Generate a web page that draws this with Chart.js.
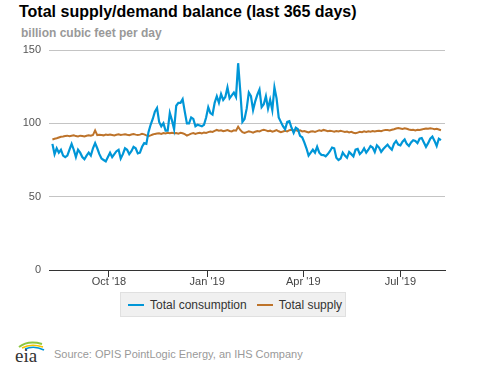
<!DOCTYPE html>
<html>
<head>
<meta charset="utf-8">
<script src="https://cdn.jsdelivr.net/npm/chart.js@4"></script>
<style>
  body { margin: 0; width: 477px; height: 367px; background: #fff; position: relative; overflow: hidden; font-family: "Liberation Sans", Arial, sans-serif; }
  #title { position: absolute; left: 19px; top: 4px; font-size: 16px; line-height: 16px; font-weight: bold; color: #000; white-space: nowrap; }
  #subtitle { position: absolute; left: 21px; top: 27px; font-size: 12px; line-height: 12px; font-weight: bold; color: #999; white-space: nowrap; }
  #chartBox { position: absolute; left: 0; top: 0; width: 477px; height: 290px; }
  #legend { position: absolute; left: 120px; top: 292px; width: 224px; height: 23px; background: #f0f0f0; border: 1px solid #e0e0e0; display: flex; align-items: center; font-size: 12px; color: #333; }
  .swatch { display: inline-block; width: 16px; height: 2px; margin-right: 6px; }
  .item { display: flex; align-items: center; white-space: nowrap; }
  #source { position: absolute; left: 54px; top: 348px; font-size: 11px; line-height: 13px; color: #999; white-space: nowrap; }
  #logo { position: absolute; left: 14px; top: 339px; }
</style>
</head>
<body>
<div id="title">Total supply/demand balance (last 365 days)</div>
<div id="subtitle">billion cubic feet per day</div>
<div id="chartBox"><canvas id="chart"></canvas></div>
<div id="legend">
  <div class="item" style="margin-left:7px"><span class="swatch" style="background:#0096d7"></span>Total consumption</div>
  <div class="item" style="margin-left:10px"><span class="swatch" style="background:#bd732a"></span>Total supply</div>
</div>
<svg id="logo" width="32" height="25" viewBox="0 0 32 25">
  <path d="M5 8 Q14 1 28 5" stroke="#8dc63f" stroke-width="2" fill="none"/>
  <path d="M8 9 Q17 4 29 8" stroke="#f5c400" stroke-width="1.6" fill="none"/>
  <path d="M11 10 Q20 6 30 11" stroke="#0096d7" stroke-width="1.6" fill="none"/>
  <text x="1" y="23" font-family="Liberation Serif, serif" font-size="19" fill="#333">eia</text>
</svg>
<div id="source">Source: OPIS PointLogic Energy, an IHS Company</div>

<script>
// days counted from Aug 1 2018, one value every 2 days
const firstDay = 8;
const stepDays = 2;

const consumption = [
  86, 79, 83, 80, 82, 78, 77, 78, 82, 86,
  82, 77, 82, 80, 77, 75.5, 78, 80, 78, 83,
  86.5, 83, 79, 76, 75, 74, 77, 80, 77, 79,
  81, 82, 76, 79, 83, 82, 79, 81, 84, 83,
  79.5, 80, 84, 86.5, 86, 94, 99, 103, 108, 110.5,
  101, 98, 100, 95, 95, 107, 102, 96, 112, 114,
  114, 116.5, 108, 100, 100, 104, 103, 98, 99, 98.5,
  98, 99, 104, 111, 107, 106, 114, 118.5, 114, 120,
  116, 118, 124.5, 117, 119, 121, 118, 141, 122, 101,
  103, 110, 121, 118.5, 109, 115, 119.5, 123, 111, 113,
  118.5, 110, 116, 109, 124.5, 117, 104, 101, 98, 96,
  101, 101.5, 97, 93.5, 97, 96, 91.5, 90.5, 87, 83,
  78, 80, 82, 80, 84, 80, 78.5, 78.3, 77.5, 79,
  81, 83.5, 83, 76.5, 75, 76, 80, 78, 76.5, 80.5,
  79, 77.5, 82, 82.5, 79, 80.5, 83, 80, 82, 84.5,
  83.5, 80.5, 85, 83.5, 80.5, 82.5, 84, 85.5, 83.5, 82,
  86, 88, 85.5, 85, 87.5, 89, 86, 84.5, 87, 88.5,
  88, 86.5, 89.5, 90, 87, 84, 86.5, 89.5, 91, 88,
  84.5, 89.5, 88.5
];

const supply = [
  89, 89.5, 89.8, 90.3, 90.8, 91, 91.3, 91.6, 91.2, 91.5,
  91.8, 91.3, 91.1, 91.6, 91.4, 91, 91.5, 91.8, 91.5, 92,
  95.2, 92, 92.2, 92, 91.8, 92.3, 92, 92.4, 92.1, 91.8,
  92.2, 92.5, 92, 92.3, 92.6, 92.2, 91.9, 92.4, 92.7, 92.3,
  92, 92.3, 92.8, 92.5, 91.8, 91.3, 91.8, 92.4, 92.8, 93,
  93.2, 92.8, 93.4, 93.1, 93.5, 93.2, 93.6, 93.2, 93.4, 93,
  93.5, 93.2, 92.6, 91.7, 92.3, 93, 93.4, 92.8, 93.3, 93.6,
  93.1, 93.8, 93.5, 94, 94.4, 94.1, 94.8, 95.5, 95, 95.3,
  94.6, 95, 95.4, 94.8, 94.5, 95.2, 95, 97.7, 95.5, 94,
  93.4, 94, 94.5, 94.2, 93.6, 94.3, 94.8, 94.5, 95.2, 95.6,
  95.2, 94.6, 95, 94.3, 94.8, 95.4, 94.6, 94, 94.4, 94.9,
  94.5, 95.3, 95.6, 95.1, 95.4, 94.8, 95.2, 94.5, 94.8, 94.3,
  93.8, 94.4, 94.6, 94.2, 94.7, 95.2, 94.8, 95.5, 95.1, 94.6,
  95, 94.7, 94.3, 94.8, 94.4, 94.9, 94.5, 94.1, 94.4, 93.8,
  94.2, 93.6, 93.2, 93.7, 94.2, 93.9, 94.5, 94.1, 94.6, 94.3,
  94.7, 94.4, 94.8, 95, 94.6, 95.2, 95.4, 95.5, 95.1, 95.6,
  96, 96.5, 96.8, 96.5, 96.2, 96.6, 96.3, 95.8, 95.4, 95.6,
  95.2, 95.6, 95.4, 95.8, 96.2, 96.5, 96.3, 96.7, 96.4, 96,
  96.3, 95.8, 95.3
];

// x axis ticks: Oct 1, Jan 1, Apr 1, Jul 1
const tickDays = [61, 153, 243, 334];
const tickLabels = ["Oct '18", "Jan '19", "Apr '19", "Jul '19"];
const yTicks = [0, 50, 100, 150];

const days = consumption.map((_, i) => firstDay + i * stepDays);
const toPoints = (vals) => vals.map((v, i) => ({ x: days[i], y: v }));

const ctx = document.getElementById('chart').getContext('2d');
new Chart(ctx, {
  type: 'line',
  data: {
    datasets: [
      {
        label: 'Total consumption',
        data: toPoints(consumption),
        borderColor: '#0096d7',
        borderWidth: 2.2,
        pointRadius: 0,
        tension: 0
      },
      {
        label: 'Total supply',
        data: toPoints(supply),
        borderColor: '#bd732a',
        borderWidth: 2,
        pointRadius: 0,
        tension: 0
      }
    ]
  },
  options: {
    responsive: true,
    maintainAspectRatio: false,
    animation: false,
    layout: { padding: { top: 50, right: 32, bottom: 0, left: 0 } },
    plugins: { legend: { display: false }, tooltip: { enabled: false } },
    scales: {
      x: {
        type: 'linear',
        min: 4.8,
        max: 375.8,
        afterBuildTicks: (scale) => { scale.ticks = tickDays.map(d => ({ value: d })); },
        afterFit: (scale) => { scale.height = 20; },
        ticks: {
          autoSkip: false,
          maxRotation: 0,
          padding: -2,
          color: '#444',
          font: { family: 'Liberation Sans', size: 11 },
          callback: (val) => tickLabels[tickDays.indexOf(val)]
        },
        grid: { drawOnChartArea: false, drawTicks: true, tickLength: 7, tickColor: '#333' },
        border: { color: '#333', width: 1 }
      },
      y: {
        min: 0,
        max: 150,
        afterBuildTicks: (scale) => { scale.ticks = yTicks.map(v => ({ value: v })); },
        afterFit: (scale) => { scale.width = 49; },
        ticks: {
          padding: 8,
          color: '#555',
          font: { family: 'Liberation Sans', size: 11 }
        },
        grid: { color: '#c4c4c4', drawTicks: false },
        border: { display: false }
      }
    }
  }
});
</script>
</body>
</html>
